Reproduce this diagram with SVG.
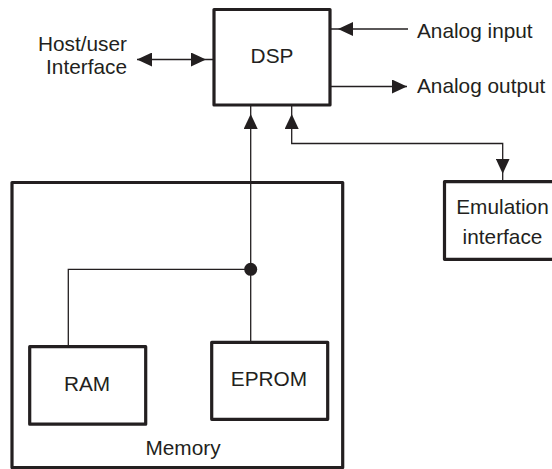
<svg xmlns="http://www.w3.org/2000/svg" width="552" height="469" viewBox="0 0 552 469">
  <style>
    .box { fill: #ffffff; stroke: #231f20; stroke-width: 3.2; stroke-linejoin: round; }
    .conn { fill: none; stroke: #231f20; stroke-width: 1.3; }
    text { font-family: "Liberation Sans", Arial, sans-serif; font-size: 20.8px; fill: #231f20; }
    .c { text-anchor: middle; }
    .e { text-anchor: end; }
  </style>
  <defs>
    <marker id="ah" markerUnits="userSpaceOnUse" markerWidth="15" markerHeight="14" refX="15" refY="7" orient="auto-start-reverse">
      <path d="M0,0L15,7L0,14z" fill="#231f20"/>
    </marker>
    <marker id="ahg" markerUnits="userSpaceOnUse" markerWidth="23" markerHeight="14" refX="23" refY="7" orient="auto-start-reverse">
      <path d="M0,0L15,7L0,14z" fill="#231f20"/>
    </marker>
  </defs>
  <rect width="552" height="469" fill="#ffffff"/>

  <g id="memory">
    <rect class="box" x="12" y="182.5" width="330.7" height="285"/>
    <text class="c" x="183" y="455">Memory</text>
  </g>

  <g id="connectors">
    <path class="conn" d="M137,59.5H214" marker-start="url(#ah)" marker-end="url(#ahg)"/>
    <path class="conn" d="M408,29H330" marker-end="url(#ahg)"/>
    <path class="conn" d="M330,86.5H407" marker-end="url(#ah)"/>
    <path class="conn" d="M250.7,269.3V106" marker-end="url(#ahg)"/>
    <path class="conn" d="M502.7,181.7V143.5H291.7V106" marker-start="url(#ahg)" marker-end="url(#ahg)"/>
    <path class="conn" d="M68.3,346.7V269.3H250.7"/>
    <path class="conn" d="M250.7,342.3V269.3"/>
    <circle cx="250.7" cy="269.3" r="6.5" fill="#231f20"/>
  </g>

  <g id="dsp">
    <rect class="box" x="214" y="9.5" width="116" height="95.5"/>
    <text class="c" x="272" y="63">DSP</text>
  </g>

  <g id="host">
    <text class="e" x="127" y="51">Host/user</text>
    <text class="e" x="127" y="74">Interface</text>
  </g>

  <g id="analog-input">
    <text x="417" y="38">Analog input</text>
  </g>

  <g id="analog-output">
    <text x="417" y="93">Analog output</text>
  </g>

  <g id="emulation">
    <rect class="box" x="444.5" y="181.7" width="120" height="77.6"/>
    <text class="c" x="502.5" y="213.5">Emulation</text>
    <text class="c" x="502.5" y="243.5">interface</text>
  </g>

  <g id="ram">
    <rect class="box" x="29.7" y="346.7" width="116" height="77.5"/>
    <text class="c" x="87" y="391">RAM</text>
  </g>

  <g id="eprom">
    <rect class="box" x="211.7" y="342.3" width="116" height="77"/>
    <text class="c" x="269" y="386">EPROM</text>
  </g>
</svg>
